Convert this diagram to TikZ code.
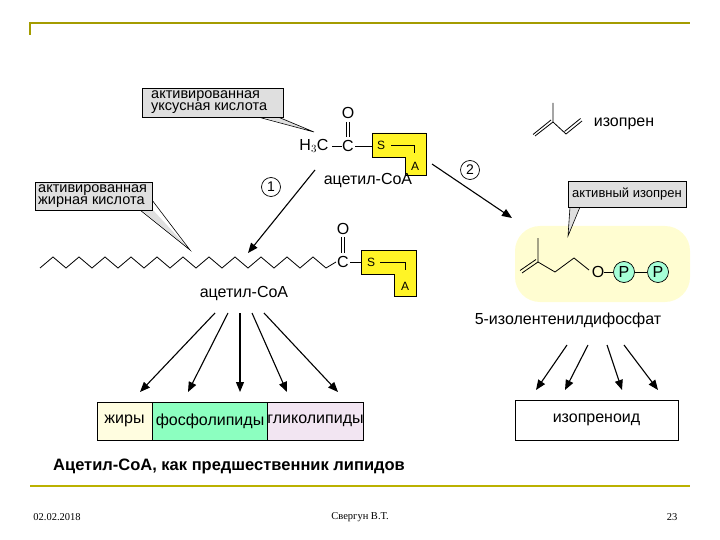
\documentclass[tikz,border=0pt]{standalone}
\usepackage{fontspec}
\setmainfont{Liberation Sans}
\newfontfamily\serf{Liberation Serif}
\usetikzlibrary{arrows.meta}
\begin{document}
\begin{tikzpicture}[x=1pt,y=-1pt,
  lbl/.style={font=\fontsize{16}{17}\selectfont, inner sep=0pt},
  cl/.style={font=\fontsize{14.5}{12.5}\selectfont, inner sep=0pt, align=left, anchor=north west},
  call/.style={fill=gray!25, draw=black, line width=0.6pt},
  coa/.style={fill=yellow!85!white, draw=black, line width=0.8pt},
  arr/.style={line width=1.1pt, -{Triangle[length=10pt,width=8pt]}},
  bond/.style={line width=0.8pt},
  num/.style={circle, draw, line width=0.7pt, minimum size=19pt, inner sep=0pt, font=\fontsize{14}{14}\selectfont}]
\useasboundingbox (0,0) rectangle (720,540);
% frame
\draw[draw=olive!80!yellow, line width=1.2pt] (30,35) -- (30,23) -- (690,23);
\draw[draw=olive!60!yellow, line width=1.5pt] (30,486) -- (690,486);
\node[font=\serf\fontsize{10.5}{11}\selectfont] (date) at (57,517) {02.02.2018};
\node[font=\serf\fontsize{10.5}{11}\selectfont] (auth) at (360,517) {Свергун В.Т.};
\node[font=\serf\fontsize{10.5}{11}\selectfont] (pg) at (672,517) {23};
% callout 1
\fill[gray!25] (258,116) -- (278,116) -- (314,132) -- cycle;
\draw[line width=0.6pt] (258,117) -- (314,132) -- (278,117);
\draw[call] (142,88) rectangle (283,117);
\fill[gray!25] (259,116.3) rectangle (277,117.3);
\node[cl] (c1) at (151,90) {активированная\\уксусная кислота};
% acetyl
\node[lbl] (h3c) at (314,146) {H$_3$C};
\node[lbl] (c) at (348,146) {C};
\node[lbl] (o1) at (348,113) {O};
\draw[bond] (332,146) -- (342,146);
\draw[bond] (355,146) -- (372,146);
\draw[bond] (346.5,122) -- (346.5,137);
\draw[bond] (349.5,122) -- (349.5,137);
\draw[coa] (372,133) -- (426,133) -- (426,175) -- (405,175) -- (405,157) -- (372,157) -- cycle;
\node[lbl, font=\fontsize{12}{12}\selectfont] (s1) at (381,145) {S};
\draw[bond] (391,145) -- (414,145) -- (414,153);
\node[lbl, font=\fontsize{12}{12}\selectfont] (a1) at (415,166) {A};
\node[lbl] (acoa1) at (368,181) {ацетил-CoA};
% arrow 1
\coordinate (s1a) at (315,170);
\coordinate (e1a) at (248,253);
\draw[arr] (s1a) -- (e1a);
\node[num] (n1) at (271,187) {1};
% callout 2
\fill[gray!25] (140,209) -- (152,209) -- (190,250) -- cycle;
\draw[line width=0.6pt] (140,210) -- (190,250) -- (152,200);
\draw[call] (35,182) rectangle (152,210);
\fill[gray!25] (141,209.3) rectangle (151.5,210.3);
\node[cl] (c2) at (38,184) {активированная\\жирная кислота};
% chain
\draw[bond] (40,268) \foreach \i in {1,...,22} { -- ({40+13*\i},{ifthenelse(mod(\i,2)==1,257,268)}) } -- (336,262);
\node[lbl] (c2c) at (343,262) {C};
\node[lbl] (o2) at (343,229) {O};
\draw[bond] (341.5,237) -- (341.5,253);
\draw[bond] (344.5,237) -- (344.5,253);
\draw[bond] (350,262) -- (361,262);
\draw[coa] (361,250) -- (416,250) -- (416,296) -- (394,296) -- (394,274) -- (361,274) -- cycle;
\node[lbl, font=\fontsize{12}{12}\selectfont] (s2) at (371,262) {S};
\draw[bond] (380,262) -- (405,262) -- (405,270);
\node[lbl, font=\fontsize{12}{12}\selectfont] (a2) at (405,286) {A};
\node[lbl] (acoa2) at (244,294) {ацетил-CoA};
% lipid boxes
\node[draw, line width=0.8pt, fill=yellow!12, minimum width=55pt, minimum height=38pt, lbl] (zh) at (124.5,421) {жиры};
\node[draw, line width=0.8pt, fill=green!55!cyan!45, minimum width=116pt, minimum height=38pt, lbl] (fos) at (210,421) {фосфолипиды};
\node[draw, line width=0.8pt, fill=violet!10, minimum width=95pt, minimum height=38pt, lbl] (gl) at (315.5,421) {гликолипиды};
\foreach \sx/\ex in {215/140,228/188,240/240,252/287,264/338}{
  \draw[arr] (\sx,313) -- (\ex,392);}
\node[font=\bfseries\fontsize{16.5}{17}\selectfont, anchor=west, inner sep=0pt] (cap) at (53,466) {Ацетил-CoA, как предшественник липидов};
% isoprene
\draw[bond] (553,103) -- (553,122) -- (566,134);
\draw[bond] (553,122) -- (535,136);
\draw[bond] (551,120) -- (533,134.5);
\draw[bond] (566,134) -- (582,121);
\draw[bond] (564.5,131.5) -- (580.5,118.5);
\node[lbl] (iso) at (624,124) {изопрен};
% arrow 2
\coordinate (s2a) at (432,164);
\coordinate (e2a) at (512,218);
\draw[arr] (s2a) -- (e2a);
\node[num] (n2) at (470,170) {2};
% highlight
\fill[yellow!18, rounded corners=25pt] (515,226) rectangle (690,302);
% callout 3
\fill[gray!25] (570,206) -- (580,206) -- (568,236) -- cycle;
\draw[line width=0.6pt] (570,207) -- (568,236) -- (580,207);
\draw[call] (568,181) rectangle (686,207);
\fill[gray!25] (570.5,206.3) rectangle (579.5,207.3);
\node[lbl, font=\fontsize{13}{13}\selectfont] (c3) at (627,194) {активный изопрен};
% ipp molecule
\draw[bond] (538,238) -- (538,262) -- (555,272) -- (574,258) -- (589,270);
\draw[bond] (538,262) -- (522,273);
\draw[bond] (536,259.5) -- (520,270.5);
\node[lbl] (ox) at (598,272) {O};
\node[circle, draw, line width=0.7pt, fill=green!45!cyan!35, minimum size=21pt, inner sep=0pt, lbl] (p1) at (624,272) {P};
\node[circle, draw, line width=0.7pt, fill=green!45!cyan!35, minimum size=21pt, inner sep=0pt, lbl] (p2) at (658,272) {P};
\draw[bond] (ox) -- (p1);
\draw[bond] (p1) -- (p2);
\node[lbl] (ipp) at (568,320) {5-изолентенилдифосфат};
% isoprenoid
\node[draw, line width=0.8pt, minimum width=163pt, minimum height=40pt, lbl] (ipd) at (596.5,420) {изопреноид};
\foreach \sx/\ex in {567/536,588/565,607/622,624/658}{
  \draw[arr] (\sx,345) -- (\ex,390);}
\end{tikzpicture}
\end{document}
